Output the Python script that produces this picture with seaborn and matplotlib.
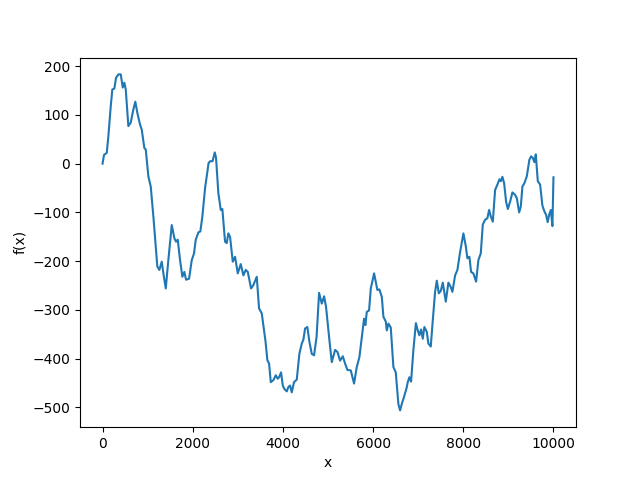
import seaborn as sns
import matplotlib.pyplot as plt
import pandas as pd

# values
x = [0, 33, 93, 129, 182, 217, 262, 299, 350, 404, 448, 484, 515, 572, 625,
     683, 727, 772, 832, 869, 927, 958, 1016, 1069, 1127, 1187, 1215, 1260,
     1313, 1349, 1402, 1459, 1535, 1593, 1630, 1668, 1719, 1770, 1814, 1852,
     1919, 1978, 2029, 2067, 2125, 2169, 2214, 2274, 2333, 2351, 2385, 2440,
     2489, 2517, 2568, 2622, 2657, 2717, 2754, 2790, 2828, 2888, 2939, 2999,
     3065, 3123, 3176, 3221, 3294, 3345, 3420, 3471, 3531, 3582, 3615, 3655,
     3693, 3731, 3788, 3842, 3886, 3915, 3959, 3997, 4032, 4086, 4121, 4159,
     4196, 4247, 4307, 4365, 4418, 4454, 4492, 4542, 4587, 4640, 4691, 4747,
     4802, 4862, 4914, 4957, 5031, 5084, 5157, 5209, 5268, 5328, 5379, 5430,
     5505, 5578, 5638, 5696, 5749, 5800, 5829, 5860, 5911, 5949, 6022, 6067,
     6095, 6140, 6193, 6229, 6282, 6304, 6340, 6392, 6450, 6503, 6561, 6599,
     6636, 6687, 6743, 6769, 6805, 6842, 6893, 6949, 6991, 7027, 7064, 7102,
     7137, 7191, 7226, 7279, 7324, 7375, 7413, 7457, 7501, 7546, 7612, 7670,
     7723, 7759, 7819, 7870, 7930, 8003, 8057, 8091, 8136, 8173, 8224, 8284,
     8335, 8388, 8433, 8484, 8535, 8573, 8610, 8655, 8706, 8757, 8802, 8833,
     8868, 8906, 8950, 8988, 9039, 9090, 9150, 9188, 9239, 9276, 9311, 9356,
     9409, 9466, 9504, 9541, 9577, 9608, 9653, 9704, 9755, 9799, 9837, 9871,
     9904, 9942, 9977, 10000]

fx = [0, 18, 22, 56, 118, 152, 154, 176, 183, 183, 156, 166, 152, 77, 84,
      111, 127, 104, 80, 70, 32, 29, -26, -47, -108, -177, -211, -218,
      -201, -225, -256, -198, -126, -153, -160, -156, -198, -232, -222, -238,
      -236, -198, -184, -156, -141, -139, -108, -50, -12, 1, 5, 5,
      23, 12, -60, -95, -93, -160, -163, -143, -150, -201, -191, -225,
      -206, -229, -218, -222, -256, -249, -232, -297, -307, -342, -365, -403,
      -410, -448, -444, -434, -441, -438, -428, -455, -462, -467, -458, -455,
      -469, -448, -443, -390, -369, -361, -338, -335, -365, -390, -393, -355,
      -265, -287, -272, -294, -362, -407, -382, -386, -404, -395, -410, -423,
      -424, -451, -417, -397, -356, -318, -331, -304, -301, -256, -225, -246,
      -259, -258, -273, -314, -324, -342, -328, -336, -417, -428, -493, -506,
      -493, -478, -460, -448, -438, -447, -383, -327, -342, -352, -340, -359,
      -335, -345, -369, -375, -321, -263, -240, -266, -261, -244, -283, -244,
      -253, -263, -229, -218, -181, -143, -170, -194, -191, -222, -225, -242,
      -198, -184, -125, -115, -112, -95, -108, -119, -54, -43, -32, -36,
      -27, -40, -78, -93, -78, -59, -64, -71, -100, -88, -47, -40,
      -26, 8, 15, 12, 3, 19, -36, -43, -86, -98, -105, -120,
      -105, -95, -128, -28]

df = pd.DataFrame({"x": x, "f(x)": fx})

fig, ax = plt.subplots(figsize=(6.4, 4.8), dpi=100)
sns.lineplot(data=df, x="x", y="f(x)", ax=ax, color="#1f77b4", linewidth=1.5)
ax.set_xlabel("x")
ax.set_ylabel("f(x)")
plt.savefig("out.png")
